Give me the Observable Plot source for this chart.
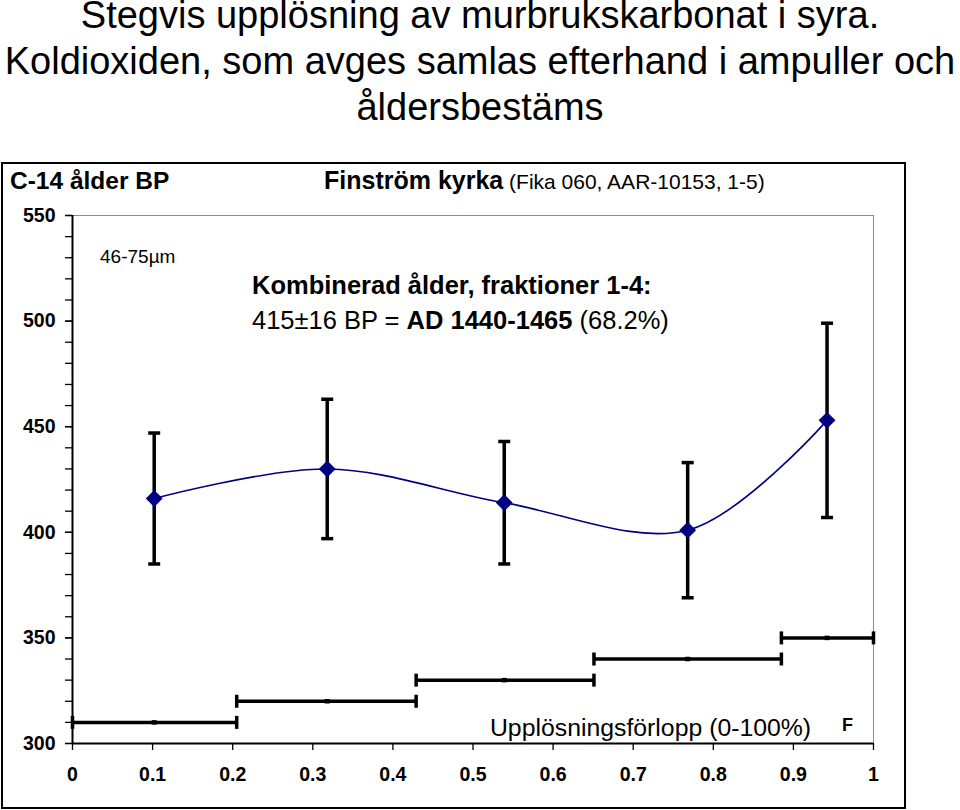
<!DOCTYPE html>
<html>
<head>
<meta charset="utf-8">
<script src="https://cdn.jsdelivr.net/npm/d3@7"></script>
<script src="https://cdn.jsdelivr.net/npm/@observablehq/plot@0.6"></script>
<style>
  html, body { margin: 0; padding: 0; background: white; }
  body { width: 960px; height: 810px; position: relative; overflow: hidden; font-family: 'Liberation Sans', Arial, sans-serif; }
  #title { position: absolute; left: 0; top: -8px; width: 960px; text-align: center; font-size: 38px; line-height: 46px; color: black; }
  #chart { position: absolute; left: 1px; top: 162px; width: 905px; height: 647px; box-sizing: border-box; border: 2px solid black; }
  #chart svg { display: block; }
</style>
</head>
<body>
<div id="title">Stegvis upplösning av murbrukskarbonat i syra.<br>Koldioxiden, som avges samlas efterhand i ampuller och<br>åldersbestäms</div>
<div id="chart"></div>
<script>
// ---- data ----
const fraction = [1, 2, 3, 4, 5];
const fracMid = [0.102, 0.318, 0.539, 0.768, 0.942];   // dissolution progress (mid of fraction)
const age = [416, 430, 414, 401, 453];                  // C-14 age BP
const ageErr = [31, 33, 29, 32, 46];                    // ± 1 sigma
const fracStart = [0, 0.205, 0.429, 0.651, 0.885];
const fracEnd = [0.205, 0.429, 0.651, 0.885, 1.0];
const fracLevel = [310, 320, 330, 340, 350];
const xTicks = [0, 0.1, 0.2, 0.3, 0.4, 0.5, 0.6, 0.7, 0.8, 0.9, 1];
const yMajorTicks = [300, 350, 400, 450, 500, 550];
const yMinorTicks = [300, 310, 320, 330, 340, 350, 360, 370, 380, 390, 400, 410, 420, 430, 440, 450, 460, 470, 480, 490, 500, 510, 520, 530, 540, 550];

const points = fraction.map((f, i) => ({f, x: fracMid[i], age: age[i], lo: age[i] - ageErr[i], hi: age[i] + ageErr[i]}));
const bars = fraction.map((f, i) => ({f, x1: fracStart[i], x2: fracEnd[i], mid: fracMid[i], y: fracLevel[i]}));

// custom cap symbols
const hCap = {draw(ctx, size) { const r = Math.sqrt(size / Math.PI); ctx.moveTo(-r, 0); ctx.lineTo(r, 0); }};
const vCap = {draw(ctx, size) { const r = Math.sqrt(size / Math.PI); ctx.moveTo(0, -r); ctx.lineTo(0, r); }};

const FONT = "'Liberation Sans', Arial, sans-serif";

const plot = Plot.plot({
  width: 901,
  height: 643,
  marginLeft: 69,
  marginRight: 31,
  marginTop: 51,
  marginBottom: 64,
  x: {domain: [0, 1], axis: null},
  y: {domain: [300, 550], axis: null},
  style: {fontFamily: FONT, color: "black", background: "white", overflow: "visible"},
  marks: [
    // plot-area border (top & right, grey)
    Plot.ruleY([550], {stroke: "#8c8c8c", strokeWidth: 1}),
    Plot.ruleX([1], {stroke: "#8c8c8c", strokeWidth: 1}),
    // axes
    Plot.axisY({ticks: yMinorTicks, tickSize: 7, text: null, stroke: "black", strokeWidth: 1.3, label: null}),
    Plot.axisY({ticks: yMajorTicks, tickSize: 7, tickPadding: 10, tickFormat: d => String(d), fontSize: 19.5, fontWeight: "bold", fill: "black", stroke: "black", strokeWidth: 1.3, label: null}),
    Plot.axisX({ticks: xTicks, tickSize: 7, tickPadding: 17, tickFormat: d => String(d), fontSize: 19.5, fontWeight: "bold", fill: "black", stroke: "black", strokeWidth: 1.3, label: null}),
    Plot.ruleX([0], {stroke: "black", strokeWidth: 2}),
    Plot.ruleY([300], {stroke: "black", strokeWidth: 2}),
    // fraction ranges (horizontal bars)
    Plot.ruleY(bars, {y: "y", x1: "x1", x2: "x2", stroke: "black", strokeWidth: 3.5}),
    Plot.dot(bars, {x: "x1", y: "y", symbol: vCap, r: 6.5, stroke: "black", strokeWidth: 3.5, fill: "none"}),
    Plot.dot(bars, {x: "x2", y: "y", symbol: vCap, r: 6.5, stroke: "black", strokeWidth: 3.5, fill: "none"}),
    Plot.dot(bars, {x: "mid", y: "y", symbol: hCap, r: 2.5, stroke: "black", strokeWidth: 4.5, fill: "none"}),
    // error bars
    Plot.ruleX(points, {x: "x", y1: "lo", y2: "hi", stroke: "black", strokeWidth: 3.5}),
    Plot.dot(points, {x: "x", y: "lo", symbol: hCap, r: 6, stroke: "black", strokeWidth: 3.5, fill: "none"}),
    Plot.dot(points, {x: "x", y: "hi", symbol: hCap, r: 6, stroke: "black", strokeWidth: 3.5, fill: "none"}),
    // smoothed line + markers
    Plot.line(points, {x: "x", y: "age", curve: "cardinal", tension: 0, stroke: "#000080", strokeWidth: 1.6}),
    Plot.dot(points, {x: "x", y: "age", symbol: "diamond2", r: 7.6, fill: "#000080", stroke: "none"})
  ]
});

document.getElementById("chart").appendChild(plot);

// ---- annotations (real text, positioned through the plot's scales) ----
const sx = plot.scale("x"), sy = plot.scale("y");
const svg = d3.select(plot);
const annotations = [
  {x: -0.0774, y: 562.1, parts: [{t: "C-14 ålder BP", size: 24.5, bold: true}]},
  {x: 0.3146, y: 562.1, parts: [{t: "Finström kyrka", size: 25, bold: true}, {t: " (Fika 060, AAR-10153, 1-5)", size: 21, bold: false}]},
  {x: 0.035, y: 527.1, parts: [{t: "46-75µm", size: 19, bold: false}]},
  {x: 0.2247, y: 512.8, parts: [{t: "Kombinerad ålder, fraktioner 1-4:", size: 25.5, bold: true}]},
  {x: 0.2247, y: 496.2, parts: [{t: "415±16 BP = ", size: 25.5, bold: false}, {t: "AD 1440-1465", size: 25.5, bold: true}, {t: " (68.2%)", size: 25.5, bold: false}]},
  {x: 0.5218, y: 303.5, parts: [{t: "Upplösningsförlopp (0-100%)", size: 24.8, bold: false}]},
  {x: 0.9613, y: 305.8, parts: [{t: "F", size: 18, bold: true}]}
];
for (const a of annotations) {
  const t = svg.append("text")
    .attr("x", sx.apply(a.x))
    .attr("y", sy.apply(a.y))
    .attr("text-anchor", "start")
    .attr("fill", "black")
    .attr("font-family", FONT)
    .style("white-space", "pre");
  for (const p of a.parts) {
    t.append("tspan")
      .attr("font-size", p.size)
      .attr("font-weight", p.bold ? "bold" : "normal")
      .text(p.t);
  }
}
</script>
</body>
</html>
